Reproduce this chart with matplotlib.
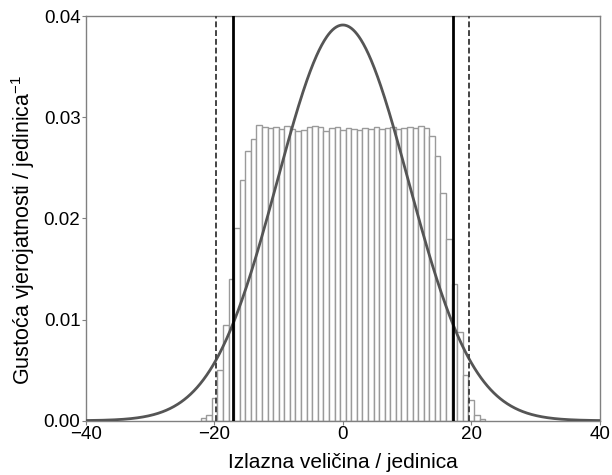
import numpy as np
import matplotlib
matplotlib.use('Agg')
import matplotlib.pyplot as plt

# Histogram (51 bins, equal width)
hist_lo = -22.15
hist_hi = 22.15
hist_density = [
    0.0003, 0.0006, 0.0022, 0.0050, 0.0095, 0.0140, 0.0190, 0.0238, 0.0267, 0.0278,
    0.0292, 0.0290, 0.0289, 0.0290, 0.0288, 0.0291, 0.0288, 0.0286, 0.0287, 0.0290,
    0.0291, 0.0290, 0.0286, 0.0289, 0.0290, 0.0287, 0.0289, 0.0288, 0.0287, 0.0289,
    0.0288, 0.0290, 0.0288, 0.0289, 0.0290, 0.0288, 0.0289, 0.0290, 0.0289, 0.0291,
    0.0289,
    0.0281, 0.0262, 0.0225, 0.0180, 0.0135, 0.0088, 0.0045, 0.0020, 0.0006, 0.0002,
]

# Normal curve parameters (peak ~0.039)
norm_mean = 0.0
norm_sigma = 10.2

# Interval limits
solid_lines = [-17.1, 17.1]
dashed_lines = [-19.7, 19.7]

x_ticks = [-40, -20, 0, 20, 40]
y_ticks = [0.00, 0.01, 0.02, 0.03, 0.04]

plt.rcParams['font.family'] = ['Liberation Sans', 'DejaVu Sans']
plt.rcParams['mathtext.fontset'] = 'custom'
plt.rcParams['mathtext.rm'] = 'Liberation Sans'
plt.rcParams['mathtext.it'] = 'Liberation Sans'

fig = plt.figure(figsize=(6.12, 4.75), dpi=100)
ax = fig.add_axes([0.1405, 0.1143, 0.8395, 0.8520])

# histogram bars
edges = np.linspace(hist_lo, hist_hi, len(hist_density) + 1)
width = edges[1] - edges[0]
ax.bar(edges[:-1], hist_density, width=width, align='edge',
       facecolor='white', edgecolor='#9a9a9a', linewidth=1.0, zorder=2)

# normal density curve
xs = np.linspace(-40, 40, 801)
pdf = np.exp(-0.5 * ((xs - norm_mean) / norm_sigma) ** 2) / (norm_sigma * np.sqrt(2 * np.pi))
ax.plot(xs, pdf, color='#555555', linewidth=2.0, zorder=4)

# vertical limits
for xv in solid_lines:
    ax.axvline(xv, color='black', linewidth=2.0, zorder=5)
for xv in dashed_lines:
    ax.axvline(xv, color='#444444', linewidth=1.4, linestyle=(0, (3, 1.5)), zorder=5)

ax.set_xlim(-40, 40)
ax.set_ylim(0, 0.04)
ax.set_xticks(x_ticks)
ax.set_yticks(y_ticks)
ax.set_yticklabels([f'{v:.2f}' for v in y_ticks])
ax.tick_params(labelsize=13.5, direction='out', length=3, color='#808080', pad=1)

for s in ax.spines.values():
    s.set_color('#808080')
    s.set_linewidth(1.0)

ax.set_xlabel('Izlazna veličina / jedinica', fontsize=15)
ax.set_ylabel('Gustoća vjerojatnosti / jedinica$^{-1}$', fontsize=15.5)
ax.xaxis.set_label_coords(0.5, -0.080)
ax.yaxis.set_label_coords(-0.095, 0.471)

fig.savefig('out.png', dpi=100)
